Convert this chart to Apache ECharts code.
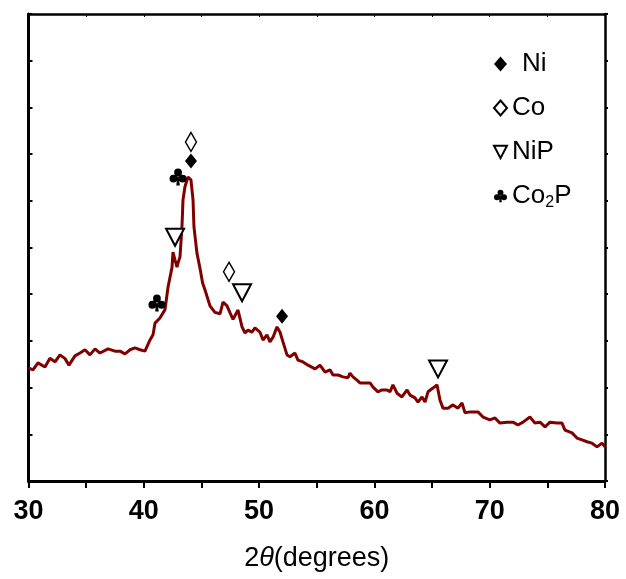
<!DOCTYPE html>
<html>
<head>
<meta charset="utf-8">
<script src="https://cdn.jsdelivr.net/npm/echarts@6/dist/echarts.min.js"></script>
<style>html,body{margin:0;padding:0;background:#fff}#c{width:626px;height:579px}</style>
</head>
<body>
<div id="c"></div>
<script>
// 2θ (degrees) and intensity (a.u.)
var twoTheta = [30.00,30.39,30.82,31.43,31.86,32.30,32.73,33.17,33.51,34.03,34.47,34.90,35.33,35.77,36.20,36.90,37.50,37.94,38.37,38.80,39.24,39.67,40.10,40.54,40.80,40.97,41.40,41.84,42.10,42.45,42.53,42.71,42.88,42.97,43.14,43.31,43.40,43.57,43.83,44.09,44.27,44.35,44.61,44.87,45.10,45.31,45.74,46.17,46.61,46.87,47.22,47.48,47.74,48.17,48.52,48.78,49.04,49.38,49.64,50.07,50.34,50.68,50.94,51.21,51.55,51.81,52.07,52.42,52.68,53.11,53.37,53.81,54.24,54.41,54.85,55.28,55.72,56.15,56.41,56.84,57.28,57.71,57.88,58.14,58.49,58.75,59.18,59.62,59.88,60.31,60.66,61.09,61.35,61.61,61.96,62.39,62.83,63.09,63.52,63.78,64.13,64.39,64.65,65.08,65.43,65.69,65.95,66.38,66.82,67.25,67.60,67.86,68.29,68.98,69.42,70.02,70.46,70.89,71.50,72.02,72.45,72.89,73.49,73.93,74.36,74.80,75.23,75.84,76.27,76.53,77.14,77.57,78.01,78.44,78.87,79.31,79.74,80.00];
var intensity = [2.42,2.38,2.53,2.44,2.63,2.55,2.70,2.62,2.48,2.68,2.74,2.81,2.70,2.83,2.74,2.83,2.78,2.78,2.72,2.81,2.85,2.81,2.78,3.02,3.13,3.38,3.49,3.67,4.15,4.58,4.90,4.73,4.58,4.67,4.80,5.44,6.02,6.30,6.51,6.45,6.02,5.44,4.88,4.56,4.24,4.09,3.75,3.61,3.58,3.83,3.75,3.60,3.46,3.66,3.30,3.17,3.23,3.19,3.28,3.19,3.02,3.13,2.98,3.08,3.30,3.19,2.98,2.70,2.66,2.74,2.59,2.55,2.48,2.48,2.40,2.48,2.33,2.38,2.27,2.27,2.23,2.21,2.31,2.23,2.16,2.10,2.10,2.10,2.01,1.91,1.95,1.95,1.91,2.06,1.88,1.80,1.95,1.84,1.78,1.69,1.80,1.69,1.91,1.99,2.06,1.73,1.56,1.56,1.63,1.56,1.67,1.46,1.48,1.48,1.37,1.31,1.35,1.24,1.26,1.26,1.20,1.26,1.37,1.24,1.26,1.16,1.26,1.24,1.24,1.09,1.03,0.92,0.88,0.84,0.81,0.73,0.81,0.73];

// Phase markers [2θ, label height]
var niMarks = [[44.09, 6.85], [51.99, 3.53]];
var coMarks = [[44.09, 7.26], [47.39, 4.48]];
var nipMarks = [[42.71, 5.22], [48.52, 4.03], [65.52, 2.40]];
var co2pMarks = [[42.97, 6.51], [41.14, 3.81]];

var xTicks = [30, 40, 50, 60, 70, 80];

var curve = twoTheta.map(function (t, i) { return [t, intensity[i]]; });

var TRI = 'path://M0,0 L20,0 L10,19 Z';
var CLUB = 'path://M28,28 A22,22 0 1,0 72,28 A22,22 0 1,0 28,28 Z M2,62 A22,22 0 1,0 46,62 A22,22 0 1,0 2,62 Z M54,62 A22,22 0 1,0 98,62 A22,22 0 1,0 54,62 Z M46,52 L40,100 L60,100 L54,52 Z';

var chart = echarts.init(document.getElementById('c'), null, {renderer: 'canvas'});
var FONT = 'Liberation Sans';
chart.setOption({
  animation: false,
  backgroundColor: '#fff',
  grid: {left: 28.5, right: 21, top: 14, bottom: 98, containLabel: false},
  legend: {
    orient: 'vertical',
    left: 488,
    top: 46,
    itemWidth: 13,
    itemHeight: 15,
    itemGap: 18,
    textStyle: {fontFamily: FONT, fontSize: 26, color: '#000',
      rich: {
        n: {fontFamily: FONT, fontSize: 26, color: '#000'},
        p: {width: 10},
        s: {fontFamily: FONT, fontSize: 16, color: '#000', verticalAlign: 'bottom', padding: [13, 0, 0, 0]}
      }},
    formatter: function (name) {
      if (name === 'Co2P') return '{n|Co}{s|2}{n|P}';
      if (name === 'Ni') return '{p|}{n|Ni}';
      return '{n|' + name + '}';
    },
    data: [
      {name: 'Ni', icon: 'diamond'},
      {name: 'Co', icon: 'diamond'},
      {name: 'NiP', icon: TRI},
      {name: 'Co2P', icon: CLUB}
    ]
  },
  xAxis: [{
    type: 'value', min: 30, max: 80, interval: 10, position: 'bottom',
    axisLine: {onZero: false, lineStyle: {color: '#000', width: 3}},
    axisTick: {inside: false, length: 7, lineStyle: {color: '#000', width: 2}},
    minorTick: {show: true, splitNumber: 2, length: 7, lineStyle: {color: '#000', width: 2}},
    axisLabel: {fontFamily: FONT, fontWeight: 'bold', fontSize: 27, color: '#000', margin: 17,
      formatter: function (v) { return xTicks.indexOf(v) >= 0 ? String(v) : ''; }},
    splitLine: {show: false},
    name: '{n|2}{t|θ}{n|(degrees)}',
    nameLocation: 'middle',
    nameGap: 64,
    nameTextStyle: {rich: {
      n: {fontFamily: FONT, fontSize: 27, color: '#000'},
      t: {fontFamily: FONT, fontSize: 27, fontStyle: 'italic', color: '#000'}
    }}
  }, {
    type: 'value', min: 30, max: 80, interval: 5, position: 'top',
    axisLine: {show: true, onZero: false, lineStyle: {color: '#000', width: 2.5}},
    axisTick: {show: true, inside: true, length: 3, lineStyle: {color: '#000', width: 1}},
    axisLabel: {show: false},
    splitLine: {show: false}
  }],
  yAxis: [{
    type: 'value', min: 0, max: 10, interval: 1, position: 'left',
    axisLine: {show: true, onZero: false, lineStyle: {color: '#000', width: 3}},
    axisTick: {show: true, inside: true, length: 4, lineStyle: {color: '#000', width: 2}},
    axisLabel: {show: false},
    splitLine: {show: false}
  }, {
    type: 'value', min: 0, max: 10, interval: 1, position: 'right',
    axisLine: {show: true, onZero: false, lineStyle: {color: '#000', width: 2.5}},
    axisTick: {show: true, inside: false, length: 3, lineStyle: {color: '#000', width: 2}},
    axisLabel: {show: false},
    splitLine: {show: false}
  }],
  series: [{
    type: 'line', name: 'pattern', data: curve, showSymbol: false, symbol: 'none',
    lineStyle: {color: '#800000', width: 3}, z: 2
  }, {
    type: 'scatter', name: 'Ni', data: niMarks, symbol: 'diamond', symbolSize: [12, 15],
    itemStyle: {color: '#000', opacity: 1}, z: 3
  }, {
    type: 'scatter', name: 'Co', data: coMarks, symbol: 'diamond', symbolSize: [11, 19],
    itemStyle: {color: '#fff', borderColor: '#000', borderWidth: 1.5, opacity: 1}, z: 3
  }, {
    type: 'scatter', name: 'NiP', data: nipMarks, symbol: TRI, symbolSize: [18, 17],
    itemStyle: {color: '#fff', borderColor: '#000', borderWidth: 2, opacity: 1}, z: 3
  }, {
    type: 'scatter', name: 'Co2P', data: co2pMarks, symbol: CLUB, symbolSize: [17, 17],
    itemStyle: {color: '#000', opacity: 1}, z: 3
  }]
});
</script>
</body>
</html>
